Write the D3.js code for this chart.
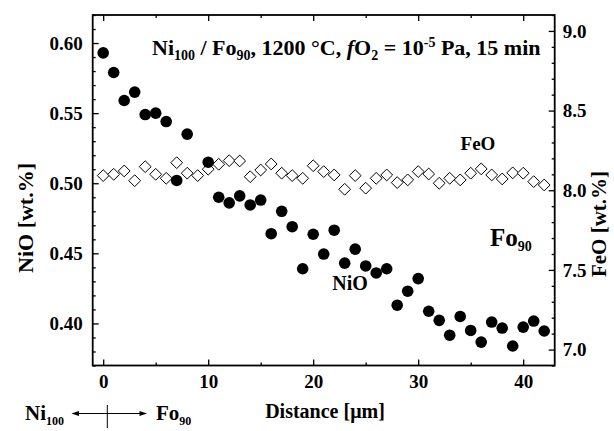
<!DOCTYPE html>
<html><head><meta charset="utf-8">
<script src="https://cdn.jsdelivr.net/npm/d3@7"></script>
<style>
body{margin:0;background:#fff;}
svg text{font-family:"Liberation Serif","Times New Roman",serif;font-weight:bold;fill:#000;}
</style></head>
<body><svg id="c" width="614" height="431"></svg>
<script>
// Data
const nioDist = [0,1,2,3,4,5,6,7,8,10,11,12,13,14,15,16,17,18,19,20,21,22,23,24,25,26,27,28,29,30,31,32,33,34,35,36,37,38,39,40,41,42];
const nioVal  = [0.593,0.579,0.559,0.565,0.549,0.550,0.544,0.502,0.535,0.515,0.490,0.486,0.491,0.4845,0.488,0.464,0.480,0.469,0.439,0.4636,0.4495,0.4665,0.443,0.453,0.441,0.436,0.439,0.413,0.423,0.432,0.4087,0.4022,0.3916,0.4050,0.3950,0.3867,0.401,0.3967,0.3839,0.3974,0.4017,0.3946];
const feoDist = [0,1,2,3,4,5,6,7,8,9,10,11,12,13,14,15,16,17,18,19,20,21,22,23,24,25,26,27,28,29,30,31,32,33,34,35,36,37,38,39,40,41,42];
const feoVal  = [8.092,8.100,8.121,8.060,8.148,8.100,8.075,8.173,8.107,8.092,8.132,8.163,8.186,8.184,8.085,8.127,8.165,8.107,8.092,8.075,8.154,8.117,8.096,8.006,8.092,8.013,8.075,8.096,8.048,8.065,8.117,8.102,8.044,8.075,8.065,8.107,8.134,8.096,8.071,8.109,8.107,8.054,8.033];
const xTicks = [0,10,20,30,40];
const xMinor = [5,15,25,35];
const leftTicks = [0.40,0.45,0.50,0.55,0.60];
const rightTicks = [7.0,7.5,8.0,8.5,9.0];

const svg = d3.select("#c");
const L=92.7, R=554.7, T=15, B=365.5;
const x = d3.scaleLinear().domain([-1,43]).range([L,R]);
const yL = d3.scaleLinear().domain([0.37,0.62]).range([B,T]);
const yR = d3.scaleLinear().domain([6.9,9.1]).range([B,T]);

const fs = 19;
function ax(gen, tx, ty, labels){
  const g = svg.append("g").attr("transform",`translate(${tx},${ty})`).call(gen);
  g.select(".domain").remove();
  g.selectAll("line").attr("stroke","#000").attr("stroke-width",1.3);
  g.selectAll("text").style("font-size",fs+"px");
  if(!labels) g.selectAll("text").remove();
  return g;
}
const minorL = d3.range(37,63).map(v=>v/100).filter(v=>!leftTicks.some(t=>Math.abs(t-v)<1e-9));
const minorR = d3.range(69,92).map(v=>v/10).filter(v=>!rightTicks.some(t=>Math.abs(t-v)<1e-9));

ax(d3.axisBottom(x).tickValues(xTicks).tickSize(-6).tickPadding(9).tickFormat(d3.format("d")), 0, B, true);
ax(d3.axisBottom(x).tickValues(xMinor).tickSize(-3), 0, B, false);
ax(d3.axisTop(x).tickValues(xTicks).tickSize(-6), 0, T, false);
ax(d3.axisTop(x).tickValues(xMinor).tickSize(-3), 0, T, false);
ax(d3.axisLeft(yL).tickValues(leftTicks).tickSize(-6).tickPadding(10).tickFormat(d3.format(".2f")), L, 0, true);
ax(d3.axisLeft(yL).tickValues(minorL).tickSize(-3), L, 0, false);
ax(d3.axisRight(yR).tickValues(rightTicks).tickSize(-6).tickPadding(8).tickFormat(d3.format(".1f")), R, 0, true);
ax(d3.axisRight(yR).tickValues(minorR).tickSize(-3), R, 0, false);

svg.append("rect").attr("x",L).attr("y",T).attr("width",R-L).attr("height",B-T)
  .attr("fill","none").attr("stroke","#000").attr("stroke-width",1.8);

const dsz = 5.9;
svg.append("g").selectAll("path").data(feoDist).join("path")
  .attr("d",(d,i)=>{const cx=x(d), cy=yR(feoVal[i]);return `M${cx},${cy-dsz}L${cx+dsz},${cy}L${cx},${cy+dsz}L${cx-dsz},${cy}Z`;})
  .attr("fill","#fff").attr("stroke","#000").attr("stroke-width",1);

svg.append("g").selectAll("circle").data(nioDist).join("circle")
  .attr("cx",d=>x(d)).attr("cy",(d,i)=>yL(nioVal[i])).attr("r",5.8).attr("fill","#000");

// Title
const t = svg.append("text").attr("x",152).attr("y",55).style("font-size","22px");
const sub = "14px";
t.append("tspan").text("Ni");
t.append("tspan").attr("dy",5).style("font-size",sub).text("100");
t.append("tspan").attr("dy",-5).text(" / Fo");
t.append("tspan").attr("dy",5).style("font-size",sub).text("90");
t.append("tspan").attr("dy",-5).text(", 1200 °C, ");
t.append("tspan").style("font-style","italic").text("f");
t.append("tspan").text("O");
t.append("tspan").attr("dy",5).style("font-size",sub).text("2");
t.append("tspan").attr("dy",-5).text(" = 10");
t.append("tspan").attr("dy",-8).style("font-size",sub).text("-5");
t.append("tspan").attr("dy",8).text(" Pa, 15 min");

svg.append("text").attr("x",478).attr("y",150).attr("text-anchor","middle").style("font-size","19px").text("FeO");
const fo = svg.append("text").attr("x",490).attr("y",246).style("font-size","25px");
fo.append("tspan").text("Fo");
fo.append("tspan").attr("dy",5).style("font-size","14px").text("90");
svg.append("text").attr("x",350).attr("y",290).attr("text-anchor","middle").style("font-size","20px").text("NiO");

svg.append("text").attr("transform","translate(33,218) rotate(-90)").attr("text-anchor","middle").style("font-size","22px").text("NiO [wt.%]");
svg.append("text").attr("transform","translate(606,224) rotate(-90)").attr("text-anchor","middle").style("font-size","21px").text("FeO [wt.%]");
svg.append("text").attr("x",325).attr("y",418).attr("text-anchor","middle").style("font-size","20px").text("Distance [μm]");

const ni = svg.append("text").attr("x",25).attr("y",420).style("font-size","21px");
ni.append("tspan").text("Ni");
ni.append("tspan").attr("dy",5).style("font-size","12px").text("100");
const fo2 = svg.append("text").attr("x",156).attr("y",420).style("font-size","21px");
fo2.append("tspan").text("Fo");
fo2.append("tspan").attr("dy",5).style("font-size","12px").text("90");
svg.append("line").attr("x1",77).attr("x2",141).attr("y1",413.5).attr("y2",413.5).attr("stroke","#000").attr("stroke-width",1);
svg.append("path").attr("d","M71.5,413.5L79,411L79,416Z").attr("fill","#000");
svg.append("path").attr("d","M147,413.5L139.5,411L139.5,416Z").attr("fill","#000");
svg.append("line").attr("x1",107.3).attr("x2",107.3).attr("y1",405).attr("y2",428).attr("stroke","#000").attr("stroke-width",1);
</script></body></html>
